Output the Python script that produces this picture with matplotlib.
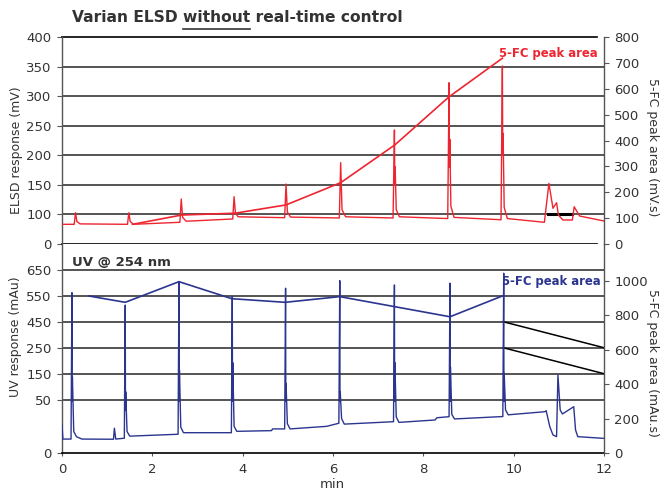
import matplotlib
matplotlib.use('Agg')
import matplotlib.pyplot as plt
from matplotlib.lines import Line2D

plt.rcParams['font.family'] = 'DejaVu Sans'

# ELSD chromatogram (time in min, response in mV)
elsd_t = [0.00, 0.27, 0.30, 0.33, 0.40, 1.45, 1.48, 1.51, 1.58,
          2.61, 2.64, 2.67, 2.75, 3.78, 3.81, 3.84, 3.90,
          4.93, 4.96, 4.99, 5.06, 6.14, 6.17, 6.20, 6.28,
          7.33, 7.36, 7.368, 7.376, 7.40, 7.47,
          8.54, 8.57, 8.578, 8.586, 8.61, 8.68,
          9.72, 9.75, 9.758, 9.766, 9.79, 9.86,
          10.68, 10.72, 10.78, 10.87, 10.95, 10.99, 11.09, 11.30, 11.34, 11.46, 12.00]
elsd_mv = [83.3, 83.3, 102.9, 88.0, 84.0, 83.3, 102.9, 88.0, 83.3,
           86.7, 126.1, 95.0, 88.5, 92.3, 130.0, 102.0, 96.0,
           94.5, 151.4, 104.0, 95.5, 94.0, 187.5, 108.0, 96.0,
           94.0, 242.8, 150.0, 180.7, 108.0, 96.0,
           93.0, 322.7, 180.0, 227.0, 114.0, 95.0,
           91.0, 351.0, 200.0, 237.0, 112.0, 93.0,
           86.7, 113.0, 152.6, 110.4, 119.8, 99.0, 90.6, 90.6, 113.0, 97.3, 88.9]

# ELSD 5-FC peak area (mV.s)
elsd_area_t = [1.56, 2.65, 3.83, 4.96, 6.17, 7.37, 8.57, 9.75]
elsd_area = [76, 112, 119, 151, 237, 383, 569, 718]

# UV chromatogram, drawn on the peak-area scale of the lower panel
uv_t = [0.00, 0.02, 0.20, 0.22, 0.225, 0.23, 0.26, 0.32, 0.44,
        1.14, 1.16, 1.19, 1.38, 1.40, 1.405, 1.41, 1.44, 1.50,
        2.57, 2.59, 2.595, 2.60, 2.63, 2.69,
        3.75, 3.77, 3.775, 3.78, 3.81, 3.87,
        4.64, 4.66, 4.93, 4.95, 4.955, 4.96, 4.99, 5.05,
        5.86, 6.13, 6.15, 6.155, 6.16, 6.19, 6.25,
        7.04, 7.34, 7.36, 7.365, 7.37, 7.40, 7.46,
        8.26, 8.30, 8.57, 8.59, 8.595, 8.60, 8.63, 8.69,
        9.76, 9.78, 9.785, 9.79, 9.82, 9.88,
        10.69, 10.72, 10.80, 10.87, 10.95, 10.98, 11.03, 11.08, 11.33, 11.37, 11.42, 12.00]
uv_mau = [163, 81, 81, 932, 300, 444, 125, 95, 81,
          80, 144, 81, 86, 860, 250, 356, 125, 98,
          109, 996, 300, 483, 150, 118,
          118, 909, 300, 525, 155, 126,
          130, 140, 140, 958, 300, 405, 170, 140,
          155, 173, 1002, 300, 356, 200, 168,
          178, 182, 977, 300, 525, 210, 178,
          192, 205, 211, 987, 300, 500, 225, 198,
          212, 1045, 300, 463, 250, 222,
          240, 246, 153, 105, 95, 454, 250, 227, 269, 134, 95, 85]

# UV 5-FC peak area (mAu.s)
uv_area_t = [0.59, 1.40, 2.59, 3.76, 4.94, 6.15, 7.36, 8.59, 9.77]
uv_area = [913, 876, 996, 897, 876, 909, 851, 792, 915]

# two stray black lines in the lower panel of the original graphic
stray_t = [9.77, 12.0]
stray_a = [763, 612]
stray_b = [612, 461]

elsd_ticks = [50, 100, 150, 200, 250, 300, 350, 400]
elsd_labels = ['0', '100', '150', '200', '250', '300', '350', '400']
elsd_area_ticks = [0, 100, 200, 300, 400, 500, 600, 700, 800]
uv_tick_pos = [0, 310, 461, 612, 763, 913, 1064]
uv_labels = ['0', '50', '150', '250', '450', '550', '650']
uv_area_ticks = [0, 200, 400, 600, 800, 1000]
x_ticks = [0, 2, 4, 6, 8, 10, 12]

red = '#ee2530'
blue = '#2b3590'
grid_c = '#262626'
txt = '#333333'

W, H = 662, 491
L, R = 62, 604


def fy(y):
    return 1 - y / H


fig = plt.figure(figsize=(W / 100, H / 100), dpi=100)
ax_top = fig.add_axes([L / W, fy(244), (R - L) / W, (244 - 37) / H])
ax_bot = fig.add_axes([L / W, fy(453), (R - L) / W, (453 - 244) / H])
ax_top_r = ax_top.twinx()
ax_bot_r = ax_bot.twinx()

tick_kw = dict(direction='out', length=3.5, width=0.8, color='#555555',
               labelsize=9.5, labelcolor=txt, pad=4)

# --- top panel: ELSD
ax_top.set_xlim(0, 12)
ax_top.set_ylim(50, 400)
ax_top_r.set_ylim(0, 800)
for v in elsd_ticks[1:-1]:
    ax_top.axhline(v, color=grid_c, lw=1.1, zorder=1)
ax_top.axhline(400, xmax=0.987, color='black', lw=1.2, clip_on=False)
ax_top.axhline(50, xmax=0.987, color='black', lw=1.2, clip_on=False)
ax_top.axhline(100, xmin=10.75 / 12, xmax=11.3 / 12, color='black', lw=2.2, zorder=1)

ax_top.plot(elsd_t, elsd_mv, color=red, lw=1.0, zorder=3)
ax_top_r.plot(elsd_area_t, elsd_area, color=red, lw=1.2, zorder=3)

ax_top.set_yticks(elsd_ticks)
ax_top.set_yticklabels(elsd_labels)
ax_top_r.set_yticks(elsd_area_ticks)
ax_top.tick_params(axis='y', **tick_kw)
ax_top_r.tick_params(axis='y', **tick_kw)
ax_top.tick_params(axis='x', bottom=False, labelbottom=False)

# --- bottom panel: UV
ax_bot.set_xlim(0, 12)
ax_bot.set_ylim(0, 1215)
ax_bot_r.set_ylim(0, 1215)
for v in uv_tick_pos[1:]:
    ax_bot.axhline(v, color=grid_c, lw=1.1, zorder=1)
ax_bot.plot(stray_t, stray_a, color='black', lw=1.1, zorder=1)
ax_bot.plot(stray_t, stray_b, color='black', lw=1.1, zorder=1)

ax_bot.plot(uv_t, uv_mau, color=blue, lw=1.0, zorder=3)
ax_bot_r.plot(uv_area_t, uv_area, color=blue, lw=1.2, zorder=3)

ax_bot.set_yticks(uv_tick_pos)
ax_bot.set_yticklabels(uv_labels)
ax_bot_r.set_yticks(uv_area_ticks)
ax_bot.set_xticks(x_ticks)
ax_bot.tick_params(axis='y', **tick_kw)
ax_bot_r.tick_params(axis='y', **tick_kw)
ax_bot.tick_params(axis='x', direction='out', length=2, width=0.8, color='#555555',
                   labelsize=9.5, labelcolor=txt, pad=5)

for a in (ax_top, ax_bot, ax_top_r, ax_bot_r):
    a.spines['top'].set_visible(False)
    for s in ('left', 'right'):
        a.spines[s].set_color('#555555')
        a.spines[s].set_linewidth(1.0)
for a in (ax_top, ax_top_r):
    a.spines['bottom'].set_visible(False)
for a in (ax_top_r, ax_bot_r):
    a.spines['left'].set_visible(False)
    a.spines['bottom'].set_visible(False)
for a in (ax_top, ax_bot):
    a.spines['right'].set_visible(False)
ax_bot.spines['bottom'].set_color('black')
ax_bot.spines['bottom'].set_linewidth(1.2)

# --- texts
fig.text(598 / W, fy(53), '5-FC peak area', color=red, fontsize=8.4, fontweight='bold',
         ha='right', va='center')
fig.text(601 / W, fy(282), '5-FC peak area', color=blue, fontsize=8.4, fontweight='bold',
         ha='right', va='center')
fig.text(72 / W, fy(263), 'UV @ 254 nm', color=txt, fontsize=9.5, fontweight='bold',
         ha='left', va='center')

fig.text(17 / W, fy(150), 'ELSD response (mV)', rotation=90, fontsize=9, color=txt,
         ha='center', va='center')
fig.text(16 / W, fy(337), 'UV response (mAu)', rotation=90, fontsize=9, color=txt,
         ha='center', va='center')
fig.text(653 / W, fy(147), '5-FC peak area (mV.s)', rotation=270, fontsize=9, color=txt,
         ha='center', va='center')
fig.text(653 / W, fy(363), '5-FC peak area (mAu.s)', rotation=270, fontsize=9, color=txt,
         ha='center', va='center')
fig.text(332 / W, fy(484), 'min', fontsize=9.5, color=txt, ha='center', va='center')

# title with "without" underlined
title_kw = dict(fontsize=11.2, fontweight='bold', color=txt)
fig.text(72 / W, fy(18), 'Varian ELSD without real-time control', va='center', **title_kw)
rend = fig.canvas.get_renderer()


def text_w(s):
    t = fig.text(0, 0, s, **title_kw)
    w = t.get_window_extent(rend).width
    t.remove()
    return w


u0 = 72 + text_w('Varian ELSD x') - text_w('x')
u1 = 72 + text_w('Varian ELSD without')
fig.add_artist(Line2D([u0 / W, u1 / W], [fy(29), fy(29)], color=txt, lw=1.2))

fig.savefig('out.png', dpi=100)
